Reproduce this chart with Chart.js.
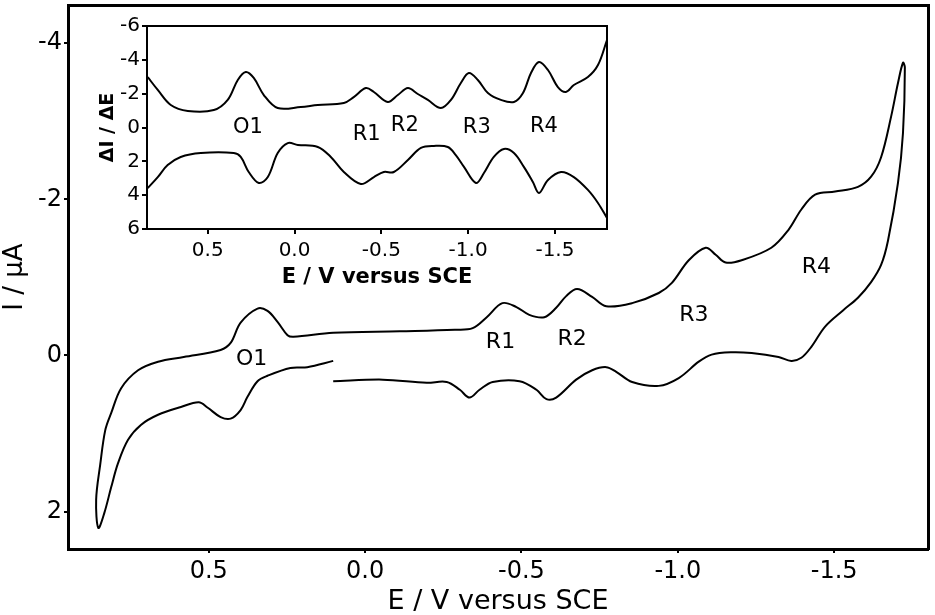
<!DOCTYPE html>
<html><head><meta charset="utf-8">
<script src="https://cdn.jsdelivr.net/npm/chart.js@4.4.1/dist/chart.umd.min.js"></script>
<style>
html,body{margin:0;padding:0;background:#fff;}
#wrap{position:relative;width:935px;height:615px;background:#fff;}
#main{position:absolute;left:0;top:0;width:935px;height:615px;}
#inset{position:absolute;left:90px;top:15px;width:525px;height:280px;}
</style></head><body>
<div id="wrap"><canvas id="main" width="935" height="615"></canvas><canvas id="inset" width="525" height="280"></canvas></div>
<script>
// ---- Main cyclic voltammogram (E in V vs SCE, I in µA) ----
const cvE = [0.102,0.185,0.239,0.312,0.344,0.376,0.398,0.430,0.462,0.503,0.532,0.589,0.662,0.717,0.758,0.790,0.812,0.834,0.853,
  0.860,0.847,0.831,0.812,0.780,0.726,0.662,0.580,0.462,0.430,0.398,0.344,0.312,0.280,0.248,0.229,0.102,-0.111,-0.287,
  -0.344,-0.389,-0.439,-0.484,-0.525,-0.573,-0.611,-0.643,-0.678,-0.726,-0.771,-0.854,-0.939,-0.981,-1.035,-1.089,-1.121,
  -1.153,-1.204,-1.299,-1.354,-1.395,-1.439,-1.503,-1.576,-1.618,-1.650,-1.682,-1.704,-1.720,
  -1.726,-1.720,-1.704,-1.672,-1.650,-1.618,-1.576,-1.529,-1.471,-1.427,-1.395,-1.363,-1.322,-1.236,-1.172,-1.108,-1.067,
  -1.003,-0.939,-0.854,-0.803,-0.771,-0.726,-0.675,-0.611,-0.580,-0.548,-0.494,-0.408,-0.366,-0.334,-0.303,-0.261,-0.197,
  -0.057,0.102];
const cvI = [0.07,0.15,0.16,0.26,0.33,0.53,0.70,0.81,0.79,0.67,0.60,0.66,0.76,0.89,1.08,1.38,1.69,2.02,2.21,
  1.85,1.40,0.96,0.74,0.42,0.19,0.08,0.02,-0.07,-0.16,-0.42,-0.60,-0.57,-0.43,-0.26,-0.24,-0.29,-0.31,-0.33,
  -0.35,-0.49,-0.67,-0.62,-0.52,-0.49,-0.61,-0.76,-0.85,-0.75,-0.63,-0.67,-0.80,-0.93,-1.22,-1.38,-1.29,
  -1.19,-1.22,-1.38,-1.61,-1.87,-2.06,-2.10,-2.16,-2.29,-2.54,-3.06,-3.49,-3.75,
  -3.69,-2.85,-2.21,-1.47,-1.16,-0.94,-0.74,-0.58,-0.37,-0.11,0.03,0.07,0.02,-0.03,-0.04,-0.01,0.08,
  0.29,0.39,0.34,0.21,0.15,0.19,0.31,0.54,0.56,0.44,0.33,0.34,0.44,0.54,0.44,0.34,0.35,
  0.31,0.33];
const mainXTicks = [0.5, 0.0, -0.5, -1.0, -1.5];
const mainYTicks = [-4, -2, 0, 2];
const mainPeakNames = ['O1','R1','R2','R3','R4'];
const mainPeakE = [0.363,-0.433,-0.662,-1.051,-1.443];
const mainPeakI = [0.05,-0.17,-0.205,-0.513,-1.128];

// ---- Inset: differential pulse voltammograms (ΔI/ΔE) ----
const dpvUpperE = [0.846,0.788,0.713,0.615,0.465,0.385,0.327,0.281,0.235,0.177,0.097,-0.036,-0.134,-0.284,-0.341,-0.411,
  -0.457,-0.537,-0.595,-0.653,-0.710,-0.768,-0.843,-0.901,-0.958,-1.004,-1.056,-1.114,-1.189,-1.264,-1.316,-1.362,-1.408,
  -1.460,-1.517,-1.563,-1.609,-1.690,-1.748,-1.800];
const dpvUpperV = [-2.98,-2.22,-1.33,-0.98,-1.03,-1.63,-2.81,-3.28,-2.93,-1.92,-1.15,-1.21,-1.33,-1.45,-1.80,-2.33,
  -2.10,-1.51,-1.92,-2.33,-1.98,-1.63,-1.15,-1.63,-2.63,-3.22,-2.81,-2.04,-1.63,-1.51,-2.04,-3.22,-3.87,
  -3.40,-2.39,-2.10,-2.51,-2.98,-3.69,-5.17];
const dpvLowerE = [0.846,0.788,0.731,0.656,0.540,0.350,0.310,0.264,0.206,0.154,0.097,0.039,-0.019,-0.134,-0.209,-0.284,
  -0.382,-0.457,-0.514,-0.572,-0.653,-0.728,-0.803,-0.883,-0.929,-0.976,-1.045,-1.091,-1.148,-1.206,-1.264,-1.321,-1.373,
  -1.408,-1.460,-1.535,-1.609,-1.690,-1.748,-1.800];
const dpvLowerV = [3.58,2.93,2.22,1.74,1.51,1.51,1.74,2.63,3.28,2.93,1.51,0.92,1.03,1.15,1.74,2.63,
  3.34,2.93,2.63,2.63,1.92,1.21,1.09,1.15,1.63,2.33,3.28,2.69,1.74,1.27,1.51,2.33,3.22,
  3.87,3.10,2.63,2.93,3.69,4.46,5.35];
const insetXTicks = [0.5, 0.0, -0.5, -1.0, -1.5];
const insetYTicks = [-6, -4, -2, 0, 2, 4, 6];
const insetPeakNames = ['O1','R1','R2','R3','R4'];
const insetPeakE = [0.269,-0.416,-0.635,-1.050,-1.437];
const insetPeakV = [0.03,0.44,-0.09,0.03,-0.03];

const FONT = "'DejaVu Sans', sans-serif";
Chart.defaults.font.family = FONT;
Chart.defaults.color = '#000';

const zip = (a, b) => a.map((v, i) => ({x: v, y: b[i]}));

const peakLabels = {
  id: 'peakLabels',
  afterDatasetsDraw(chart, args, opts) {
    const {ctx, scales: {x, y}} = chart;
    ctx.save();
    ctx.font = opts.font;
    ctx.fillStyle = '#000';
    ctx.textAlign = 'center';
    ctx.textBaseline = 'middle';
    opts.names.forEach((t, i) => ctx.fillText(t, x.getPixelForValue(opts.xs[i]), y.getPixelForValue(opts.ys[i])));
    ctx.restore();
  }
};
const whiteArea = {
  id: 'whiteArea',
  beforeDraw(chart) {
    const {ctx, chartArea: a} = chart;
    ctx.save(); ctx.fillStyle = '#fff'; ctx.fillRect(a.left, a.top, a.right - a.left, a.bottom - a.top); ctx.restore();
  }
};

const lineDs = (data) => ({data, showLine: true, borderColor: '#000', borderWidth: 2, pointRadius: 0, tension: 0.35, fill: false});
const fixSize = (prop, val) => s => { s[prop] = val; s.paddingTop = 0; s.paddingBottom = 0; s.paddingLeft = 0; s.paddingRight = 0; };
const frameAxis = (pos, w) => ({type: 'linear', position: pos, display: true, ticks: {display: false}, grid: {display: false},
  border: {display: true, color: '#000', width: w},
  afterFit: fixSize(pos === 'top' ? 'height' : 'width', 0)});

// ---- Main chart ----
new Chart(document.getElementById('main'), {
  type: 'scatter',
  data: {datasets: [lineDs(zip(cvE, cvI))]},
  options: {
    responsive: false, animation: false,
    layout: {padding: {left: 0, top: 5, right: 7, bottom: 0}},
    plugins: {legend: {display: false}, tooltip: {enabled: false},
      peakLabels: {names: mainPeakNames, xs: mainPeakE, ys: mainPeakI, font: "22px " + FONT}},
    scales: {
      x: {type: 'linear', position: 'bottom', min: -1.8, max: 0.95, reverse: true,
        afterBuildTicks: s => { s.ticks = mainXTicks.map(v => ({value: v})); },
        afterFit: fixSize('height', 66),
        ticks: {font: {size: 24}, color: '#000', padding: 4, maxRotation: 0, autoSkip: false, callback: v => Number(v).toFixed(1)},
        grid: {display: true, drawOnChartArea: false, drawTicks: true, tickLength: 4, color: '#000', lineWidth: 2},
        border: {display: true, color: '#000', width: 3},
        title: {display: true, text: 'E / V versus SCE', font: {size: 27, lineHeight: 1}, color: '#000', padding: {top: 0, bottom: 0}}},
      y: {type: 'linear', position: 'left', min: -4.49, max: 2.48, reverse: true,
        afterBuildTicks: s => { s.ticks = mainYTicks.map(v => ({value: v})); },
        afterFit: fixSize('width', 68),
        ticks: {font: {size: 24}, color: '#000', padding: 2, callback: v => String(v)},
        grid: {display: true, drawOnChartArea: false, drawTicks: true, tickLength: 4, color: '#000', lineWidth: 2},
        border: {display: true, color: '#000', width: 3},
        title: {display: true, text: 'I / μA', font: {size: 26, lineHeight: 1}, color: '#000', padding: {top: 2, bottom: 0}}},
      x2: frameAxis('top', 3),
      y2: frameAxis('right', 3)
    }
  },
  plugins: [peakLabels]
});

// ---- Inset chart ----
new Chart(document.getElementById('inset'), {
  type: 'scatter',
  data: {datasets: [lineDs(zip(dpvUpperE, dpvUpperV)), lineDs(zip(dpvLowerE, dpvLowerV))]},
  options: {
    responsive: false, animation: false,
    layout: {padding: {left: 0, top: 11, right: 8, bottom: 0}},
    plugins: {legend: {display: false}, tooltip: {enabled: false},
      peakLabels: {names: insetPeakNames, xs: insetPeakE, ys: insetPeakV, font: "21px " + FONT}},
    scales: {
      x: {type: 'linear', position: 'bottom', min: -1.8, max: 0.85, reverse: true,
        afterBuildTicks: s => { s.ticks = insetXTicks.map(v => ({value: v})); },
        afterFit: fixSize('height', 66),
        ticks: {font: {size: 20}, color: '#000', padding: 5, maxRotation: 0, autoSkip: false, callback: v => Number(v).toFixed(1)},
        grid: {display: true, drawOnChartArea: false, drawTicks: true, tickLength: 5, color: '#000', lineWidth: 2},
        border: {display: true, color: '#000', width: 2},
        title: {display: true, text: 'E / V versus SCE', font: {size: 21, weight: 'bold', lineHeight: 1}, color: '#000', padding: {top: 0, bottom: 7}}},
      y: {type: 'linear', position: 'left', min: -6, max: 6, reverse: true,
        afterBuildTicks: s => { s.ticks = insetYTicks.map(v => ({value: v})); },
        afterFit: fixSize('width', 57),
        ticks: {font: {size: 20}, color: '#000', padding: 2, callback: v => String(v)},
        grid: {display: true, drawOnChartArea: false, drawTicks: true, tickLength: 5, color: '#000', lineWidth: 2},
        border: {display: true, color: '#000', width: 2},
        title: {display: true, text: 'ΔI / ΔE', font: {size: 19, weight: 'bold', lineHeight: 1}, color: '#000', padding: {top: 9, bottom: 0}}},
      x2: frameAxis('top', 2),
      y2: frameAxis('right', 2)
    }
  },
  plugins: [whiteArea, peakLabels]
});
</script>
</body></html>
